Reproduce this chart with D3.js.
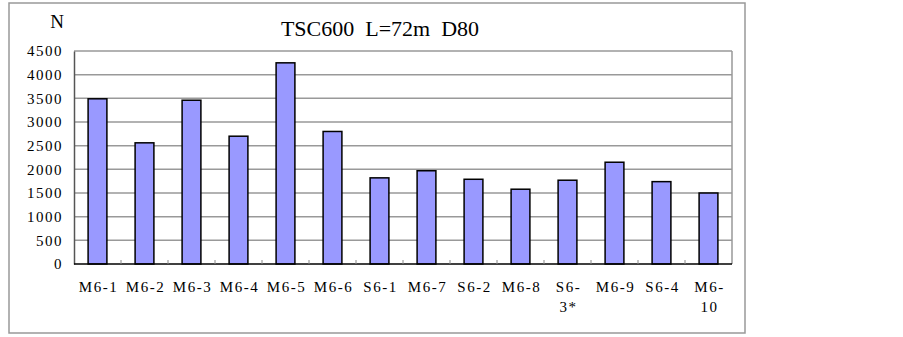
<!DOCTYPE html>
<html>
<head>
<meta charset="utf-8">
<script src="https://cdn.jsdelivr.net/npm/d3@7"></script>
<style>
    body { margin: 0; background: #fff; }
    svg { display: block; }
</style>
</head>
<body>
<svg id="chart" width="903" height="337"></svg>
<script>
var categories = ["M6-1", "M6-2", "M6-3", "M6-4", "M6-5", "M6-6", "S6-1", "M6-7", "S6-2", "M6-8", "S6-3*", "M6-9", "S6-4", "M6-10"];
var values = [3490, 2560, 3460, 2700, 4250, 2800, 1820, 1970, 1790, 1580, 1770, 2150, 1740, 1500];
var yTicks = [0, 500, 1000, 1500, 2000, 2500, 3000, 3500, 4000, 4500];
// labels that wrap onto two lines in the original
var labelLines = {"S6-3*": ["S6-", "3*"], "M6-10": ["M6-", "10"]};
var title = "TSC600\u00a0\u00a0L=72m\u00a0\u00a0D80";
var yTitle = "N";

function draw() {
    var svg = d3.select("#chart"),
        margins = {"left": 74, "right": 171, "top": 51, "bottom": 73},
        width = 903, height = 337,
        font = "'Liberation Serif', 'Times New Roman', serif";

    // outer frame
    svg.append("rect").attr("x", 9).attr("y", 3).attr("width", 736).attr("height", 330)
        .attr("fill", "none").attr("stroke", "#999").attr("stroke-width", 1.5);

    var x = d3.scaleBand().domain(categories).range([margins.left, width - margins.right]).paddingInner(0.6).paddingOuter(0.3),
        y = d3.scaleLinear().domain([0, 4500]).range([height - margins.bottom, margins.top]);

    // grid
    svg.append("g").selectAll("line").data(yTicks.filter(d => d > 0)).enter().append("line")
        .attr("x1", margins.left).attr("x2", width - margins.right)
        .attr("y1", d => y(d)).attr("y2", d => y(d))
        .attr("stroke", "#999").attr("stroke-width", 1.5);
    svg.append("line").attr("x1", width - margins.right).attr("x2", width - margins.right)
        .attr("y1", y(4500)).attr("y2", y(0)).attr("stroke", "#999").attr("stroke-width", 1.5);

    // bars
    svg.append("g").selectAll("rect").data(values).enter().append("rect")
        .attr("x", (d, i) => x(categories[i]))
        .attr("y", d => y(d))
        .attr("width", x.bandwidth())
        .attr("height", d => y(0) - y(d))
        .attr("fill", "#9999ff").attr("stroke", "#000").attr("stroke-width", 1.5);

    // y axis
    var yaxis = svg.append("g").attr("transform", "translate(" + [margins.left, 0] + ")")
        .call(d3.axisLeft(y).tickValues(yTicks).tickSize(0).tickPadding(11).tickFormat(d3.format("d")));
    yaxis.attr("font-family", null).attr("font-size", null);
    yaxis.select(".domain").attr("stroke", "#555").attr("stroke-width", 1.5);
    yaxis.selectAll("text").style("font-family", font).style("font-size", "15px")
        .style("letter-spacing", "1.5px").attr("fill", "#000");

    // x axis, ticks between bars pointing up
    var x0 = margins.left, cell = (width - margins.left - margins.right) / categories.length;
    svg.append("line").attr("x1", margins.left).attr("x2", width - margins.right)
        .attr("y1", y(0)).attr("y2", y(0)).attr("stroke", "#000").attr("stroke-width", 1.5);
    svg.append("g").selectAll("line").data(d3.range(1, categories.length)).enter().append("line")
        .attr("x1", i => x0 + i * cell).attr("x2", i => x0 + i * cell)
        .attr("y1", y(0)).attr("y2", y(0) - 4).attr("stroke", "#888").attr("stroke-width", 1);

    var labels = svg.append("g").selectAll("text").data(categories).enter().append("text")
        .attr("y", 292)
        .attr("text-anchor", "middle")
        .style("font-family", font).style("font-size", "15px").style("letter-spacing", "1.5px");
    labels.each(function(d) {
        var lines = labelLines[d] || [d];
        d3.select(this).selectAll("tspan").data(lines).enter().append("tspan")
            .attr("x", x(d) + x.bandwidth() / 2 + 1)
            .attr("dy", (l, i) => i === 0 ? 0 : 20)
            .text(l => l);
    });

    svg.append("text").attr("x", 380).attr("y", 36).attr("text-anchor", "middle")
        .style("font-family", font).style("font-size", "22px").text(title);
    svg.append("text").attr("x", 57).attr("y", 28).attr("text-anchor", "middle")
        .style("font-family", font).style("font-size", "19px").text(yTitle);
}

draw();
</script>
</body>
</html>
